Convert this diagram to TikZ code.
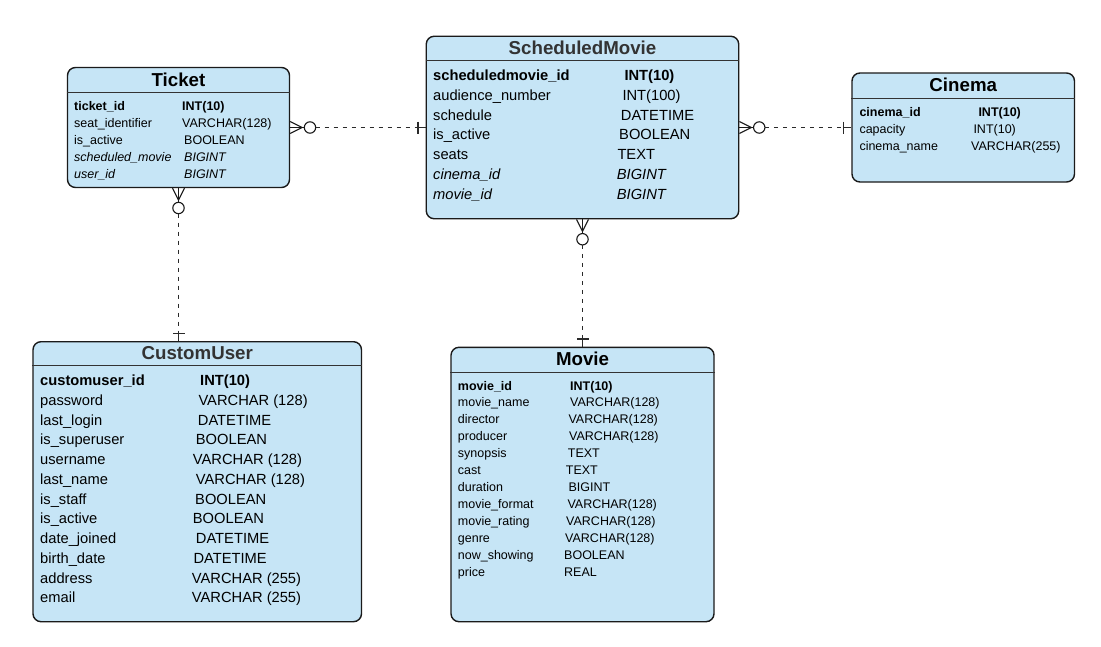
\documentclass[tikz,border=0pt]{standalone}
\usepackage{fontspec}
\setmainfont{Liberation Sans}
\usetikzlibrary{calc}

\definecolor{tablefill}{HTML}{C6E5F6}
\definecolor{frame}{HTML}{1A1A1A}
\definecolor{linkgray}{HTML}{2A2A2A}
\definecolor{titlegray}{HTML}{333333}

\tikzset{
  table/.style={draw=frame, line width=1.4pt, fill=tablefill, rounded corners=8pt, inner sep=0pt},
  sepline/.style={draw=titlegray, line width=1.4pt},
  ttl/.style={anchor=base, inner sep=0pt, font=\fontsize{18.7}{22}\selectfont\bfseries},
  small/.style={anchor=base west, inner sep=0pt, font=\fontsize{12.5}{14}\selectfont},
  big/.style={anchor=base west, inner sep=0pt, font=\fontsize{14.7}{17}\selectfont},
  crow/.style={draw=frame, line width=1.1pt},
  link/.style={draw=linkgray, line width=1pt, dash pattern=on 4.5pt off 4.5pt},
  onebar/.style={draw=linkgray, line width=1.3pt},
}

% zero-or-many (at #1) to exactly-one (at #2) relationship
\newcommand\erlink[2]{%
  \coordinate (lkA) at (#1);
  \coordinate (lkB) at (#2);
  \draw[crow] ($(lkA)!6pt!90:(lkB)$) -- ($(lkA)!12pt!(lkB)$) -- ($(lkA)!6pt!-90:(lkB)$);
  \draw[crow] (lkA) -- ($(lkA)!14pt!(lkB)$);
  \draw[crow] ($(lkA)!19.8pt!(lkB)$) circle[radius=5.7pt];
  \draw[link] ($(lkA)!25.5pt!(lkB)$) -- ($(lkB)!7.5pt!(lkA)$);
  \coordinate (lkC) at ($(lkB)!7.5pt!(lkA)$);
  \draw[onebar] ($(lkC)!6pt!90:(lkB)$) -- ($(lkC)!6pt!-90:(lkB)$);
  \draw[onebar] (lkC) -- (lkB);
}

\begin{document}
\begin{tikzpicture}[x=1pt,y=-1pt]
\useasboundingbox (0,0) rectangle (1101,646);

% ---------- Ticket ----------
\node[table, minimum width=222pt, minimum height=120pt] (ticket) at (178.5,127.5) {};
\draw[sepline] (ticket.west |- 0,92.3) -- (ticket.east |- 0,92.3);
\node[ttl] (ticket-title) at (178.5,86) {Ticket};
\foreach \i/\n/\tx/\t/\f in {1/ticket\_id/182/INT(10)/\bfseries,
  2/seat\_identifier/182/VARCHAR(128)/\relax,
  3/is\_active/184/BOOLEAN/\relax,
  4/scheduled\_movie/184/BIGINT/\itshape,
  5/user\_id/184/BIGINT/\itshape}{
  \pgfmathsetmacro\yy{110+17*(\i-1)}
  \node[small] (tk-n\i) at (74,\yy) {\f\n};
  \node[small] (tk-t\i) at (\tx,\yy) {\f\t};
}

% ---------- ScheduledMovie ----------
\node[table, minimum width=312.5pt, minimum height=182.5pt] (sm) at (582.5,127.5) {};
\draw[sepline] (sm.west |- 0,60.3) -- (sm.east |- 0,60.3);
\node[ttl, text=titlegray] (sm-title) at (582.5,54) {ScheduledMovie};
\foreach \i/\n/\tx/\t/\f in {1/scheduledmovie\_id/624.3/INT(10)/\bfseries,
  2/audience\_number/622.3/INT(100)/\relax,
  3/schedule/620.7/DATETIME/\relax,
  4/is\_active/619/BOOLEAN/\relax,
  5/seats/617.3/TEXT/\relax,
  6/cinema\_id/616.7/BIGINT/\itshape,
  7/movie\_id/616.7/BIGINT/\itshape}{
  \pgfmathsetmacro\yy{80.7+19.75*(\i-1)}
  \node[big] (sm-n\i) at (433,\yy) {\f\n};
  \node[big] (sm-t\i) at (\tx,\yy) {\f\t};
}

% ---------- Cinema ----------
\node[table, minimum width=222.5pt, minimum height=109pt] (cinema) at (963.25,127.5) {};
\draw[sepline] (cinema.west |- 0,98.3) -- (cinema.east |- 0,98.3);
\node[ttl] (cinema-title) at (963.25,91) {Cinema};
\foreach \i/\n/\tx/\t/\f in {1/cinema\_id/978.3/INT(10)/\bfseries,
  2/capacity/973.3/INT(10)/\relax,
  3/cinema\_name/971/VARCHAR(255)/\relax}{
  \pgfmathsetmacro\yy{116.7+16.7*(\i-1)}
  \node[small] (ci-n\i) at (859.3,\yy) {\f\n};
  \node[small] (ci-t\i) at (\tx,\yy) {\f\t};
}

% ---------- CustomUser ----------
\node[table, minimum width=328.5pt, minimum height=280pt] (cu) at (197.25,481.7) {};
\draw[sepline] (cu.west |- 0,365.3) -- (cu.east |- 0,365.3);
\node[ttl, text=titlegray] (cu-title) at (197.25,359) {CustomUser};
\foreach \i/\n/\tx/\t/\f in {1/customuser\_id/200/INT(10)/\bfseries,
  2/password/198.3/VARCHAR (128)/\relax,
  3/last\_login/197.7/DATETIME/\relax,
  4/is\_superuser/195.7/BOOLEAN/\relax,
  5/username/192.7/VARCHAR (128)/\relax,
  6/last\_name/195.7/VARCHAR (128)/\relax,
  7/is\_staff/195/BOOLEAN/\relax,
  8/is\_active/192.7/BOOLEAN/\relax,
  9/date\_joined/195.7/DATETIME/\relax,
  10/birth\_date/193.3/DATETIME/\relax,
  11/address/191.7/VARCHAR (255)/\relax,
  12/email/191.7/VARCHAR (255)/\relax}{
  \pgfmathsetmacro\yy{385.7+19.75*(\i-1)}
  \node[big] (cu-n\i) at (40,\yy) {\f\n};
  \node[big] (cu-t\i) at (\tx,\yy) {\f\t};
}

% ---------- Movie ----------
\node[table, minimum width=263pt, minimum height=274.4pt] (movie) at (582.5,484.5) {};
\draw[sepline] (movie.west |- 0,372.3) -- (movie.east |- 0,372.3);
\node[ttl] (movie-title) at (582.5,365) {Movie};
\foreach \i/\n/\tx/\t/\f in {1/movie\_id/570/INT(10)/\bfseries,
  2/movie\_name/570/VARCHAR(128)/\relax,
  3/director/568.3/VARCHAR(128)/\relax,
  4/producer/569/VARCHAR(128)/\relax,
  5/synopsis/567.7/TEXT/\relax,
  6/cast/565.7/TEXT/\relax,
  7/duration/568.3/BIGINT/\relax,
  8/movie\_format/567.3/VARCHAR(128)/\relax,
  9/movie\_rating/566/VARCHAR(128)/\relax,
  10/genre/565/VARCHAR(128)/\relax,
  11/now\_showing/564/BOOLEAN/\relax,
  12/price/564/REAL/\relax}{
  \pgfmathsetmacro\yy{390+16.95*(\i-1)}
  \node[small] (mv-n\i) at (457.7,\yy) {\f\n};
  \node[small] (mv-t\i) at (\tx,\yy) {\f\t};
}

% ---------- relationships ----------
\erlink{ticket.east}{sm.west}
\erlink{sm.east}{cinema.west}
\erlink{ticket.south}{ticket.south |- cu.north}
\erlink{sm.south}{sm.south |- movie.north}

\end{tikzpicture}
\end{document}
